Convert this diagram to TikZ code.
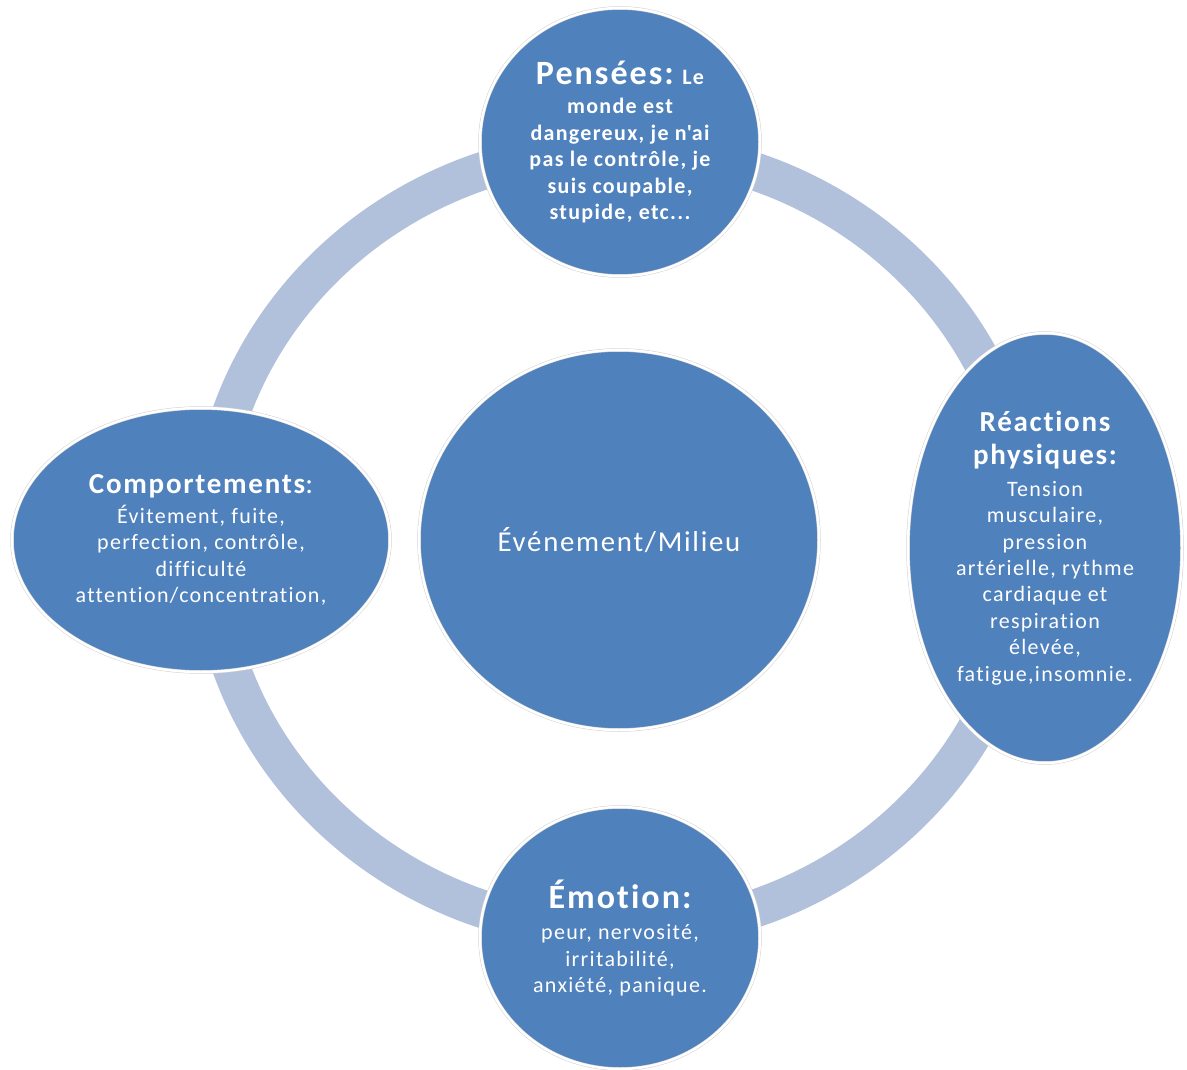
\documentclass[tikz,border=0pt]{standalone}
\usepackage{fontspec}
\setmainfont{Carlito}[Ligatures={NoCommon},LetterSpace=6]
\usetikzlibrary{shapes.geometric}
\definecolor{nodeblue}{HTML}{4F81BD}
\definecolor{ringblue}{HTML}{B2C1DB}
\newcommand{\txtbody}{\fontsize{22}{26.4}\selectfont}
\newcommand{\txthead}{\fontsize{29}{31}\selectfont\bfseries}
\newcommand{\txtbig}{\fontsize{34}{35}\selectfont\bfseries}
\begin{document}
\begin{tikzpicture}[x=1pt,y=-1pt,
  bubble/.style={ellipse,fill=nodeblue,draw=black!18,double=white,double distance=2.5pt,
    line width=0.5pt,text=white,align=center,inner sep=0pt,font=\txtbody},
  ring/.style={draw=ringblue,line width=38pt}]
\useasboundingbox (0,0) rectangle (1187,1070);
\coordinate (hub) at (618,540);
\draw [ring] (hub) ellipse [x radius=409, y radius=391];
\node [bubble,minimum width=400,minimum height=380] (milieu) at (619,540)
  {\fontsize{28.8}{30}\selectfont Événement/Milieu};
\node [bubble,minimum width=280,minimum height=268,font=\txtbody\bfseries] (pensees) at (620,142)
  {{\txtbig Pensées:} Le\\[3pt] monde est\\ dangereux, je n\textquotesingle ai\\ pas le contrôle, je\\ suis coupable,\\ stupide, etc...};
\node [bubble,minimum width=274,minimum height=430] (reactions) at (1045,548)
  {{\txthead Réactions}\\[7pt] {\txthead physiques:}\\[5pt] Tension\\ musculaire,\\ pression\\ artérielle, rythme\\ cardiaque et\\ respiration\\ élevée,\\ fatigue,insomnie.};
\node [bubble,minimum width=280,minimum height=262] (emotion) at (620,938)
  {{\txtbig Émotion:}\\[5pt] peur, nervosité,\\ irritabilité,\\ anxiété, panique.};
\node [bubble,minimum width=378,minimum height=264] (comport) at (201,540)
  {{\txthead Comportements}{\fontsize{29}{31}\selectfont :}\\[3pt] Évitement, fuite,\\ perfection, contrôle,\\ difficulté\\ attention/concentration,};
\end{tikzpicture}
\end{document}
